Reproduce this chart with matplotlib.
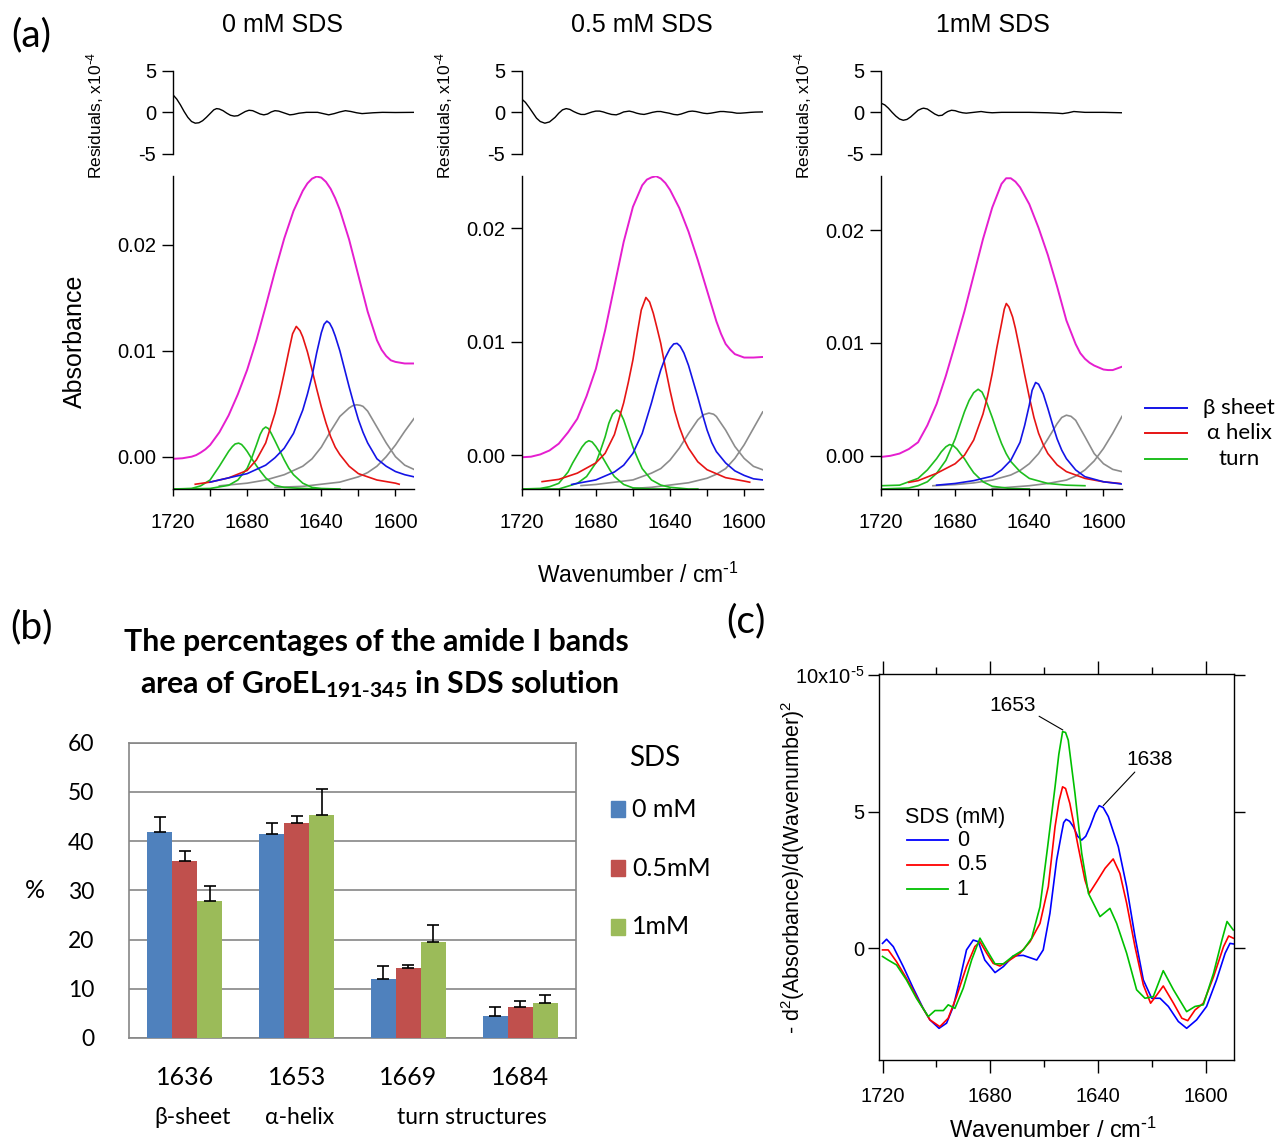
import numpy as np
import matplotlib
matplotlib.use('Agg')
import matplotlib.pyplot as plt
from matplotlib.lines import Line2D
from matplotlib.patches import Rectangle
from matplotlib.ticker import FormatStrFormatter

plt.rcParams['font.family'] = ['Liberation Sans', 'DejaVu Sans']
plt.rcParams['axes.unicode_minus'] = False
plt.rcParams['mathtext.default'] = 'regular'
plt.rcParams['axes.linewidth'] = 1.0

CAL = ['Lato', 'DejaVu Sans']   # stands in for Calibri

# ---------------- (a) band fitting, absorbance in units of 1e-3 ----------------
# 0 mM SDS
fit_0_x = [1720, 1715, 1710, 1707.5, 1705, 1702.5, 1700, 1695, 1690, 1685, 1680, 1675, 1670, 1665,
           1660, 1655, 1650, 1647.5, 1645, 1642.5, 1640, 1637.5, 1635, 1632.5, 1630, 1625, 1620,
           1615, 1610, 1607.5, 1605, 1602.5, 1600, 1595, 1590]
fit_0_y = [-0.2, -0.15, 0.0, 0.15, 0.4, 0.7, 1.1, 2.3, 3.9, 5.9, 8.2, 11.0, 14.2, 17.5,
           20.6, 23.2, 25.1, 25.8, 26.25, 26.45, 26.35, 25.95, 25.3, 24.4, 23.3, 20.5, 17.1,
           13.7, 11.0, 10.1, 9.5, 9.1, 8.95, 8.8, 8.8]
beta_0_x = [1700, 1690, 1680, 1670, 1665, 1660, 1655, 1650, 1647.5, 1645, 1642.5, 1640, 1638.5, 1637,
            1635.5, 1634, 1632.5, 1630, 1627.5, 1625, 1622.5, 1620, 1617.5, 1615, 1610, 1605, 1600,
            1595, 1590]
beta_0_y = [-2.4, -2.0, -1.6, -0.8, -0.1, 0.8, 2.2, 4.4, 5.9, 7.6, 9.8, 11.7, 12.5, 12.8,
            12.6, 12.1, 11.4, 10.0, 8.3, 6.6, 5.0, 3.5, 2.3, 1.3, -0.2, -0.9, -1.4,
            -1.7, -1.9]
alpha_0_x = [1708, 1700, 1690, 1680, 1675, 1670, 1665, 1662.5, 1660, 1657.5, 1655.5, 1653.5, 1651.5,
             1650, 1647.5, 1645, 1642.5, 1640, 1637.5, 1635, 1632.5, 1630, 1625, 1620, 1610, 1600, 1598]
alpha_0_y = [-2.6, -2.4, -2.0, -1.3, -0.3, 1.3, 4.1, 5.9, 7.9, 10.0, 11.6, 12.3, 11.9,
             11.3, 9.9, 8.2, 6.4, 4.7, 3.2, 1.9, 0.9, 0.2, -0.9, -1.6, -2.2, -2.5, -2.6]
turnA_0_x = [1720, 1710, 1705, 1700, 1695, 1692.5, 1690, 1688, 1686.5, 1684.6, 1683, 1681.5, 1680,
             1677.5, 1675, 1672.5, 1670, 1665, 1660, 1650, 1640]
turnA_0_y = [-3.05, -3.0, -2.75, -2.2, -0.9, -0.2, 0.5, 0.95, 1.2, 1.28, 1.15, 0.85, 0.5,
             -0.2, -0.85, -1.45, -2.0, -2.7, -2.9, -3.0, -3.05]
turnB_0_x = [1720, 1700, 1690, 1685, 1680, 1677.5, 1675, 1673, 1671.5, 1670, 1668.5, 1667, 1665,
             1662.5, 1660, 1657.5, 1655, 1650, 1645, 1640, 1630]
turnB_0_y = [-3.05, -3.0, -2.7, -2.2, -1.1, -0.1, 1.1, 2.1, 2.6, 2.8, 2.65, 2.2, 1.5,
             0.6, -0.3, -1.1, -1.7, -2.5, -2.9, -3.0, -3.05]
grayA_0_x = [1695, 1680, 1670, 1660, 1650, 1645, 1640, 1635, 1630, 1625, 1623, 1621, 1619, 1617.5,
             1615, 1610, 1605, 1600, 1595, 1590]
grayA_0_y = [-2.75, -2.5, -2.2, -1.7, -0.9, -0.2, 0.9, 2.4, 3.8, 4.6, 4.82, 4.9, 4.85, 4.75,
             4.3, 2.8, 1.3, 0.0, -0.8, -1.2]
grayB_0_x = [1665, 1650, 1640, 1630, 1620, 1615, 1610, 1605, 1600, 1595, 1590]
grayB_0_y = [-2.9, -2.8, -2.6, -2.4, -1.9, -1.5, -0.9, 0.0, 1.1, 2.4, 3.6]
res_0_x = [1720, 1718, 1716, 1714, 1712, 1710, 1708, 1706, 1704, 1702, 1700, 1698, 1696.5, 1695,
           1693, 1691, 1689, 1687, 1685, 1683, 1681, 1679, 1677, 1675, 1673, 1671, 1669, 1667,
           1665, 1663, 1661, 1659, 1657, 1655, 1652, 1648, 1642, 1639, 1636, 1633, 1630, 1627,
           1624, 1621, 1618, 1615, 1612, 1607, 1600, 1590]
res_0_y = [2.1, 1.6, 0.9, 0.1, -0.6, -1.1, -1.3, -1.25, -1.0, -0.6, -0.15, 0.3, 0.45, 0.4,
           0.2, -0.1, -0.35, -0.45, -0.4, -0.15, 0.1, 0.25, 0.2, 0.0, -0.2, -0.3, -0.2, 0.05,
           0.2, 0.15, 0.0, -0.15, -0.3, -0.25, -0.1, 0.0, 0.0, -0.15, -0.3, -0.15, 0.05, 0.2,
           0.1, -0.05, -0.15, -0.1, -0.05, 0.0, -0.02, 0.0]

# 0.5 mM SDS
fit_05_x = [1720, 1715, 1710, 1705, 1700, 1695, 1690, 1685, 1680, 1675, 1670, 1665, 1660, 1655,
            1652.5, 1650, 1647.5, 1645, 1642.5, 1640, 1635, 1630, 1625, 1620, 1615, 1612.5, 1610,
            1607.5, 1605, 1600, 1595, 1590]
fit_05_y = [-0.2, -0.15, 0.05, 0.4, 1.0, 2.0, 3.2, 5.2, 7.6, 11.0, 14.9, 18.8, 21.9, 23.8,
            24.3, 24.5, 24.6, 24.4, 24.0, 23.4, 21.8, 19.7, 17.2, 14.5, 11.8, 10.7, 9.8,
            9.3, 8.9, 8.6, 8.6, 8.65]
beta_05_x = [1693, 1690, 1680, 1670, 1665, 1660, 1655, 1650, 1647.5, 1645, 1642.5, 1640, 1638,
             1636.2, 1634.5, 1632.5, 1630, 1627.5, 1625, 1622.5, 1620, 1617.5, 1615, 1610, 1605,
             1600, 1595, 1590]
beta_05_y = [-2.6, -2.5, -2.2, -1.5, -0.9, 0.15, 1.9, 4.6, 6.1, 7.5, 8.6, 9.4, 9.8,
             9.85, 9.6, 9.0, 7.9, 6.5, 5.1, 3.6, 2.2, 1.1, 0.3, -0.7, -1.4,
             -1.8, -2.1, -2.2]
alpha_05_x = [1709, 1700, 1690, 1680, 1675, 1670, 1665, 1662.5, 1660, 1657.5, 1655.5, 1653, 1651,
              1649, 1647, 1645, 1642.5, 1640, 1637.5, 1635, 1632.5, 1630, 1625, 1620, 1610, 1600, 1597]
alpha_05_y = [-2.35, -2.15, -1.6, -0.7, 0.15, 1.8, 4.6, 6.4, 8.4, 10.9, 12.8, 13.9, 13.5,
              12.5, 11.2, 9.85, 7.7, 5.7, 3.9, 2.5, 1.4, 0.6, -0.6, -1.3, -2.0, -2.3, -2.4]
turnA_05_x = [1720, 1710, 1705, 1700, 1695, 1692.5, 1690, 1687.5, 1685.5, 1683.8, 1682, 1680, 1677.5,
              1675, 1672.5, 1670, 1665, 1660, 1650, 1640]
turnA_05_y = [-3.0, -2.95, -2.8, -2.5, -1.5, -0.7, 0.0, 0.7, 1.1, 1.26, 1.15, 0.75, 0.1,
              -0.6, -1.3, -1.9, -2.6, -2.9, -3.0, -3.0]
turnB_05_x = [1720, 1700, 1690, 1685, 1680, 1677.5, 1675, 1673, 1671, 1668.8, 1667, 1665, 1662.5,
              1660, 1657.5, 1655, 1650, 1645, 1640, 1630, 1625]
turnB_05_y = [-3.0, -3.0, -2.5, -1.9, -0.7, 0.4, 1.6, 2.8, 3.6, 3.97, 3.8, 3.1, 1.9,
              0.7, -0.3, -1.2, -2.2, -2.65, -2.85, -3.0, -3.0]
grayA_05_x = [1688, 1680, 1670, 1660, 1650, 1645, 1640, 1635, 1630, 1625, 1622, 1619, 1616.5, 1615,
              1610, 1605, 1600, 1595, 1590]
grayA_05_y = [-2.7, -2.6, -2.4, -2.2, -1.6, -1.2, -0.45, 0.6, 1.9, 3.1, 3.55, 3.7, 3.6, 3.4,
              2.2, 0.75, -0.3, -1.0, -1.3]
grayB_05_x = [1660, 1650, 1640, 1630, 1620, 1615, 1610, 1605, 1600, 1595, 1590]
grayB_05_y = [-2.95, -2.85, -2.65, -2.45, -2.05, -1.7, -1.2, -0.3, 0.9, 2.35, 3.8]
res_05_x = [1720, 1718, 1716, 1714, 1712, 1710, 1707.5, 1705, 1702, 1700, 1698, 1696, 1694, 1692,
            1690, 1688, 1686, 1684, 1682, 1680, 1678, 1676, 1674, 1671.5, 1669, 1667, 1665, 1662,
            1660, 1658, 1656, 1654, 1652, 1649.5, 1647, 1645, 1643, 1640.5, 1638, 1636, 1634, 1632,
            1630, 1628, 1626, 1624, 1622, 1620, 1618, 1615.5, 1613, 1611, 1609, 1606.5, 1604, 1602,
            1599, 1596.5, 1594, 1590]
res_05_y = [1.6, 1.2, 0.6, -0.05, -0.7, -1.1, -1.3, -1.15, -0.6, -0.1, 0.3, 0.45, 0.35, 0.1,
            -0.1, -0.25, -0.25, -0.1, 0.05, 0.15, 0.15, 0.05, -0.1, -0.25, -0.3, -0.15, 0.05, 0.15,
            0.05, -0.1, -0.2, -0.25, -0.15, 0.0, 0.1, 0.1, 0.0, -0.1, -0.25, -0.3, -0.2, -0.05,
            0.1, 0.15, 0.1, 0.0, -0.1, -0.15, -0.1, 0.0, 0.1, 0.1, 0.05, 0.0, -0.1, -0.1,
            -0.05, 0.0, 0.03, 0.05]

# 1 mM SDS
fit_1_x = [1720, 1715, 1710, 1705, 1700, 1695, 1690, 1685, 1680, 1675, 1670, 1665, 1660, 1655,
           1652.5, 1650, 1647.5, 1645, 1640, 1635, 1630, 1625, 1620, 1615, 1612.5, 1610, 1607.5,
           1605, 1600, 1597.5, 1595, 1592.5, 1590]
fit_1_y = [-0.1, 0.0, 0.2, 0.6, 1.2, 2.7, 4.6, 7.1, 9.9, 12.8, 16.0, 19.2, 22.0, 24.1,
           24.6, 24.6, 24.3, 23.8, 22.3, 20.2, 17.8, 15.0, 12.0, 9.9, 9.1, 8.6, 8.25,
           8.0, 7.65, 7.6, 7.6, 7.75, 7.9]
beta_1_x = [1690, 1680, 1670, 1660, 1655, 1650, 1645, 1642.5, 1640, 1638.5, 1636.6, 1635, 1632.5,
            1630, 1627.5, 1625, 1622.5, 1620, 1615, 1610, 1600, 1590]
beta_1_y = [-2.6, -2.45, -2.2, -1.8, -1.25, -0.4, 1.2, 2.7, 4.5, 5.8, 6.5, 6.35, 5.5,
            4.2, 2.8, 1.5, 0.5, -0.25, -1.25, -1.85, -2.3, -2.5]
alpha_1_x = [1705, 1700, 1690, 1680, 1675, 1670, 1665, 1662.5, 1660, 1657.5, 1655, 1653.5, 1652.4,
             1651, 1649, 1647.5, 1645, 1642.5, 1640, 1637.5, 1635, 1632.5, 1630, 1625, 1620, 1610,
             1600, 1591]
alpha_1_y = [-2.35, -2.2, -1.55, -0.7, 0.05, 1.4, 3.7, 5.3, 7.3, 9.6, 11.7, 13.0, 13.5,
             13.2, 12.3, 11.3, 9.3, 7.2, 5.2, 3.4, 2.0, 1.0, 0.2, -0.8, -1.4, -2.0,
             -2.3, -2.45]
turnA_1_x = [1720, 1710, 1700, 1695, 1690, 1687.5, 1685, 1683, 1681, 1679, 1677, 1675, 1672.5, 1670,
             1665, 1660, 1650, 1640]
turnA_1_y = [-2.65, -2.6, -2.0, -1.25, -0.25, 0.35, 0.8, 1.0, 0.9, 0.6, 0.15, -0.25, -0.9, -1.5,
             -2.3, -2.7, -2.9, -2.94]
turnB_1_x = [1720, 1705, 1700, 1695, 1690, 1685, 1680, 1677.5, 1675, 1672.5, 1670, 1667.6, 1665.5,
             1663.5, 1660, 1657.5, 1655, 1652.5, 1650, 1645, 1640, 1630, 1620, 1610]
turnB_1_y = [-2.94, -2.85, -2.65, -2.3, -1.55, -0.4, 1.5, 2.7, 3.9, 4.9, 5.6, 5.9, 5.65,
             4.95, 3.4, 2.2, 1.1, 0.2, -0.5, -1.4, -2.0, -2.45, -2.6, -2.65]
grayA_1_x = [1692, 1680, 1670, 1660, 1650, 1645, 1640, 1635, 1630, 1625, 1622.5, 1620, 1617.5,
             1615, 1610, 1605, 1600, 1595, 1590]
grayA_1_y = [-2.65, -2.55, -2.4, -2.15, -1.7, -1.3, -0.7, 0.2, 1.5, 2.85, 3.4, 3.6, 3.5,
             3.15, 1.7, 0.2, -0.7, -1.2, -1.4]
grayB_1_x = [1660, 1640, 1630, 1620, 1615, 1610, 1605, 1600, 1595, 1590]
grayB_1_y = [-2.9, -2.65, -2.45, -2.15, -1.8, -1.25, -0.45, 0.65, 2.0, 3.5]
res_1_x = [1720, 1718, 1716, 1714, 1712, 1710, 1708, 1706, 1704, 1702, 1700, 1698, 1697, 1695,
           1693, 1691, 1689, 1687, 1685.5, 1684, 1682, 1680, 1678, 1676, 1674, 1672, 1670, 1666,
           1663, 1660, 1655, 1650, 1640, 1630, 1625, 1622, 1619, 1616, 1613, 1610, 1600, 1590]
res_1_y = [1.1, 0.9, 0.5, 0.0, -0.45, -0.8, -0.95, -0.85, -0.55, -0.15, 0.25, 0.45, 0.5, 0.4,
           0.1, -0.2, -0.4, -0.35, -0.1, 0.1, 0.25, 0.2, 0.05, -0.05, -0.1, -0.05, 0.0, 0.1,
           0.0, -0.05, 0.0, 0.0, 0.0, -0.05, -0.1, -0.15, -0.05, 0.1, 0.05, 0.0, 0.0, -0.05]

# ---------------- (b) band areas ----------------
band_pos = ['1636', '1653', '1669', '1684']
pct_0mM = [41.9, 41.4, 12.0, 4.5]
err_0mM = [3.1, 2.3, 2.7, 1.9]
pct_05mM = [35.9, 43.7, 14.2, 6.2]
err_05mM = [2.1, 1.5, 0.7, 1.4]
pct_1mM = [27.9, 45.4, 19.5, 7.1]
err_1mM = [3.0, 5.1, 3.4, 1.6]

# ---------------- (c) second derivative, units of 1e-5 ----------------
d2_0_x = [1720, 1718.5, 1716, 1712.3, 1708.6, 1704.9, 1702.4, 1699, 1696.2, 1693.7, 1691.3, 1688.8,
          1686.3, 1684.4, 1682, 1678.2, 1675.1, 1671.4, 1667.7, 1662.7, 1660.3, 1657.8, 1655.3,
          1653.5, 1652.7, 1651.8, 1650.5, 1649.1, 1647.5, 1646, 1644.5, 1642.9, 1641, 1639.5, 1638,
          1636.1, 1632.4, 1629.3, 1626.2, 1623.1, 1620, 1616.9, 1613.8, 1610.1, 1607, 1603.3,
          1599.6, 1595.9, 1592.7, 1590.9, 1589.7]
d2_0_y = [0.18, 0.33, 0.06, -0.67, -1.46, -2.2, -2.62, -2.93, -2.74, -2.13, -1.16, -0.06,
          0.3, 0.24, -0.43, -0.89, -0.67, -0.28, -0.26, -0.43, -0.06, 1.28, 3.23,
          4.2, 4.6, 4.72, 4.65, 4.45, 4.1, 3.96, 4.1, 4.45, 4.95, 5.22, 5.15,
          4.82, 3.72, 2.26, 0.43, -1.16, -1.83, -1.83, -2.13, -2.68, -2.93, -2.62,
          -2.13, -1.16, -0.18, 0.18, 0.16]
d2_05_x = [1720, 1717.9, 1714.8, 1711.1, 1706.1, 1702.4, 1698.7, 1695.6, 1692.5, 1688.8, 1685.7,
           1683.8, 1681.3, 1678.9, 1676.4, 1672.7, 1668.9, 1665.2, 1661.5, 1658.4, 1655.9, 1654.4,
           1653.1, 1652, 1650.4, 1647.3, 1644.8, 1643.2, 1640.4, 1637.3, 1634.3, 1631.8, 1629.3,
           1626.2, 1623.1, 1620.4, 1618.1, 1615.7, 1611.9, 1608.8, 1606.6, 1603.9, 1600.8, 1597,
           1593.3, 1591.4, 1589.7]
d2_05_y = [-0.06, -0.06, -0.49, -1.1, -2.01, -2.62, -2.87, -2.56, -1.77, -0.67, 0.06,
           0.24, -0.18, -0.55, -0.65, -0.43, -0.18, 0.24, 0.91, 2.26, 4.45, 5.4,
           5.91, 5.85, 5.3, 3.72, 2.5, 2.01, 2.44, 2.93, 3.27, 2.74, 1.65,
           0.06, -1.34, -2.01, -1.71, -1.38, -2.01, -2.56, -2.65, -2.26, -2.01, -1.04,
           0.06, 0.45, 0.37]
d2_1_x = [1720, 1717.9, 1714.8, 1711.1, 1707.4, 1703, 1700.5, 1697.4, 1695.6, 1693.1, 1690, 1686.9,
          1683.8, 1681.3, 1678.2, 1675.1, 1671.4, 1667.7, 1664.6, 1661.5, 1658.8, 1655.9, 1654.5,
          1653.1, 1652, 1651, 1648.5, 1646, 1643.5, 1639.2, 1635.5, 1633, 1629.3, 1625.6, 1622.5,
          1619.4, 1615.7, 1611.9, 1607, 1603.9, 1600.8, 1597, 1593.9, 1592, 1589.7]
d2_1_y = [-0.3, -0.43, -0.61, -1.16, -1.83, -2.5, -2.28, -2.28, -2.07, -2.2, -1.46, -0.43,
          0.37, -0.06, -0.57, -0.57, -0.28, -0.06, 0.37, 1.52, 3.6, 5.91, 7.1,
          7.93, 7.9, 7.62, 5.67, 3.48, 2.01, 1.16, 1.46, 0.91, -0.18, -1.52, -1.83,
          -1.77, -0.82, -1.52, -2.32, -2.13, -2.07, -0.91, 0.3, 0.98, 0.67]

# ---------------- figure ----------------
W, H = 1280, 1143
fig = plt.figure(figsize=(12.8, 11.43), dpi=100)


def box(l, t, r, b):
    return [l / W, 1 - b / H, (r - l) / W, (b - t) / H]


def fx(px):
    return px / W


def fy(py):
    return 1 - py / H


MAG, BLU, RED, GRN, GRY = '#E51ECF', '#1414E6', '#E61414', '#1EBE1E', '#8C8C8C'

panels_a = [
    (173, (-3.05, 26.5), 282, '0 mM SDS', fit_0_x, fit_0_y, res_0_x, res_0_y,
     [(grayB_0_x, grayB_0_y, GRY), (grayA_0_x, grayA_0_y, GRY), (turnA_0_x, turnA_0_y, GRN),
      (turnB_0_x, turnB_0_y, GRN), (alpha_0_x, alpha_0_y, RED), (beta_0_x, beta_0_y, BLU)]),
    (521.7, (-3.0, 24.62), 642, '0.5 mM SDS', fit_05_x, fit_05_y, res_05_x, res_05_y,
     [(grayB_05_x, grayB_05_y, GRY), (grayA_05_x, grayA_05_y, GRY), (turnA_05_x, turnA_05_y, GRN),
      (turnB_05_x, turnB_05_y, GRN), (alpha_05_x, alpha_05_y, RED), (beta_05_x, beta_05_y, BLU)]),
    (881, (-2.94, 24.8), 993, '1mM SDS', fit_1_x, fit_1_y, res_1_x, res_1_y,
     [(grayB_1_x, grayB_1_y, GRY), (grayA_1_x, grayA_1_y, GRY), (turnA_1_x, turnA_1_y, GRN),
      (turnB_1_x, turnB_1_y, GRN), (alpha_1_x, alpha_1_y, RED), (beta_1_x, beta_1_y, BLU)]),
]

for left, ylim, tx, title, fxs, fys, rx, ry, bands in panels_a:
    # residuals
    axr = fig.add_axes(box(left, 70.7, left + 241, 154))
    axr.plot(rx, ry, color='k', lw=1.0)
    axr.set_xlim(1720, 1590)
    axr.set_ylim(-5, 5)
    for s in ['top', 'right', 'bottom']:
        axr.spines[s].set_visible(False)
    axr.set_xticks([])
    axr.set_yticks([-5, 0, 5])
    axr.tick_params(axis='y', direction='out', length=8, width=1, pad=4, labelsize=14.5)
    fig.text(fx(left - 78), fy(116), 'Residuals, x10$^{\\text{-}4}$', rotation=90,
             ha='center', va='center', fontsize=12.5)

    # fitted bands
    ax = fig.add_axes(box(left, 176, left + 241, 489))
    for bx, by, c in bands:
        ax.plot(bx, np.array(by) * 1e-3, color=c, lw=1.2)
    ax.plot(fxs, np.array(fys) * 1e-3, color=MAG, lw=1.4)
    ax.set_xlim(1720, 1590)
    ax.set_ylim(ylim[0] * 1e-3, ylim[1] * 1e-3)
    for s in ['top', 'right']:
        ax.spines[s].set_visible(False)
    ax.set_yticks([0.0, 0.01, 0.02])
    ax.yaxis.set_major_formatter(FormatStrFormatter('%.2f'))
    ax.set_xticks([1720, 1680, 1640, 1600])
    ax.set_xticks([1700, 1660, 1620], minor=True)
    ax.tick_params(axis='y', direction='out', length=8, width=1, pad=4, labelsize=14.5)
    ax.tick_params(axis='x', which='both', direction='out', length=5, width=1, pad=12, labelsize=14.5)
    fig.text(fx(tx), fy(25), title, ha='center', va='center', fontsize=18)

fig.text(fx(75), fy(341), 'Absorbance', rotation=90, ha='center', va='center', fontsize=18)
fig.text(fx(638), fy(575), 'Wavenumber / cm$^{\\text{-}1}$', ha='center', va='center', fontsize=16.5)

# legend of (a)
for yy, c, lab in [(408, BLU, '\u03b2 sheet'), (433, RED, '\u03b1 helix'), (459, GRN, 'turn')]:
    fig.add_artist(Line2D([fx(1145), fx(1187)], [fy(yy), fy(yy)], color=c, lw=1.4,
                          transform=fig.transFigure))
    fig.text(fx(1239), fy(yy), lab, ha='center', va='center', fontsize=16, family=CAL)

# ---------------- (b) ----------------
axb = fig.add_axes(box(129, 742.7, 576, 1038))
xpos = np.arange(len(band_pos))
bw = 0.224
series_b = [(pct_0mM, err_0mM, '#4F81BD', '0 mM'),
            (pct_05mM, err_05mM, '#C0504D', '0.5mM'),
            (pct_1mM, err_1mM, '#9BBB59', '1mM')]
for i, (vals, errs, col, lab) in enumerate(series_b):
    axb.bar(xpos + (i - 1) * bw, vals, bw, color=col, zorder=3,
            yerr=[np.zeros(len(errs)), errs],
            error_kw=dict(ecolor='black', elinewidth=1.2, capsize=4.5, capthick=1.2, zorder=4))
axb.set_xlim(-0.5, 3.5)
axb.set_ylim(0, 60)
axb.set_yticks(range(0, 61, 10))
axb.yaxis.grid(True, color='#868686', lw=1.2)
axb.set_axisbelow(True)
for s in axb.spines.values():
    s.set_color('#868686')
    s.set_linewidth(1.2)
axb.set_xticks(xpos)
axb.set_xticklabels(band_pos)
axb.tick_params(axis='both', length=0)
axb.tick_params(axis='y', pad=25, labelsize=16.5)
axb.tick_params(axis='x', pad=20, labelsize=18)
for lbl in axb.get_xticklabels() + axb.get_yticklabels():
    lbl.set_family(CAL)

for xx, lab in [(193, '\u03b2-sheet'), (300, '\u03b1-helix'), (471.7, 'turn structures')]:
    fig.text(fx(xx), fy(1117), lab, ha='center', va='center', fontsize=16.5, family=CAL)
fig.text(fx(35), fy(890), '%', ha='center', va='center', fontsize=18, family=CAL)

fig.text(fx(376), fy(651), 'The percentages of the amide I bands', ha='center', va='baseline',
         fontsize=21.8, weight='bold', family=CAL)
fig.text(fx(380), fy(693), r'area of GroEL$_{191\text{-}345}$ in SDS solution', ha='center',
         va='baseline', fontsize=21.8, weight='bold', family=CAL)

# legend of (b)
fig.text(fx(655), fy(757.5), 'SDS', ha='center', va='center', fontsize=20, family=CAL)
for yy, (_, _, col, lab) in zip([809.4, 868, 927], series_b):
    fig.add_artist(Rectangle((fx(610.6), fy(yy + 7.5)), 14.7 / W, 15.5 / H, color=col,
                             transform=fig.transFigure))
    fig.text(fx(632), fy(yy), lab, ha='left', va='center', fontsize=18, family=CAL)

# ---------------- (c) ----------------
axc = fig.add_axes(box(879.3, 674, 1234.3, 1060))
axc.plot(d2_0_x, d2_0_y, color='#0000FF', lw=1.2)
axc.plot(d2_05_x, d2_05_y, color='#FF0000', lw=1.2)
axc.plot(d2_1_x, d2_1_y, color='#00C000', lw=1.2)
axc.set_xlim(1721.2, 1589.3)
axc.set_ylim(-4.09, 10.04)
axc.set_xticks([1720, 1680, 1640, 1600])
axc.set_xticks([1700, 1660, 1620], minor=True)
axc.set_yticks([0, 5, 10])
axc.set_yticklabels(['0', '5', '10x10$^{\\text{-}5}$'])
axc.tick_params(axis='x', which='major', direction='out', length=9.5, width=1, top=True,
                pad=10, labelsize=14.5)
axc.tick_params(axis='x', which='minor', direction='out', length=5, width=1, top=True)
axc.tick_params(axis='y', direction='out', length=8, width=1, right=True, pad=3, labelsize=14.5)

axc.annotate('1653', xy=(1653.0, 7.99), xytext=(1671.5, 8.9), ha='center', va='center',
             fontsize=15, arrowprops=dict(arrowstyle='-', color='k', lw=0.8,
                                          shrinkA=0, shrinkB=0, relpos=(1.0, 0.0)))
axc.annotate('1638', xy=(1638.0, 5.22), xytext=(1620.8, 6.9), ha='center', va='center',
             fontsize=15, arrowprops=dict(arrowstyle='-', color='k', lw=0.8,
                                          shrinkA=0, shrinkB=0, relpos=(0.24, 0.0)))

fig.text(fx(905), fy(817), 'SDS (mM)', ha='left', va='center', fontsize=15.5)
for yy, c, lab in [(840, '#0000FF', '0'), (865, '#FF0000', '0.5'), (889.3, '#00C000', '1')]:
    fig.add_artist(Line2D([fx(906.7), fx(948.3)], [fy(yy), fy(yy)], color=c, lw=1.3,
                          transform=fig.transFigure))
    fig.text(fx(956.7), fy(yy), lab, ha='left', va='center', fontsize=15.5)

fig.text(fx(793), fy(867), r'- d$^2$(Absorbance)/d(Wavenumber)$^2$', rotation=90,
         ha='center', va='center', fontsize=15.5)
fig.text(fx(1053), fy(1130), 'Wavenumber / cm$^{\\text{-}1}$', ha='center', va='center', fontsize=17)

# panel letters
fig.text(fx(31), fy(35), '(a)', ha='center', va='center', fontsize=28, family=CAL)
fig.text(fx(31), fy(627), '(b)', ha='center', va='center', fontsize=28, family=CAL)
fig.text(fx(746), fy(621), '(c)', ha='center', va='center', fontsize=28, family=CAL)

fig.savefig('out.png', dpi=100)
